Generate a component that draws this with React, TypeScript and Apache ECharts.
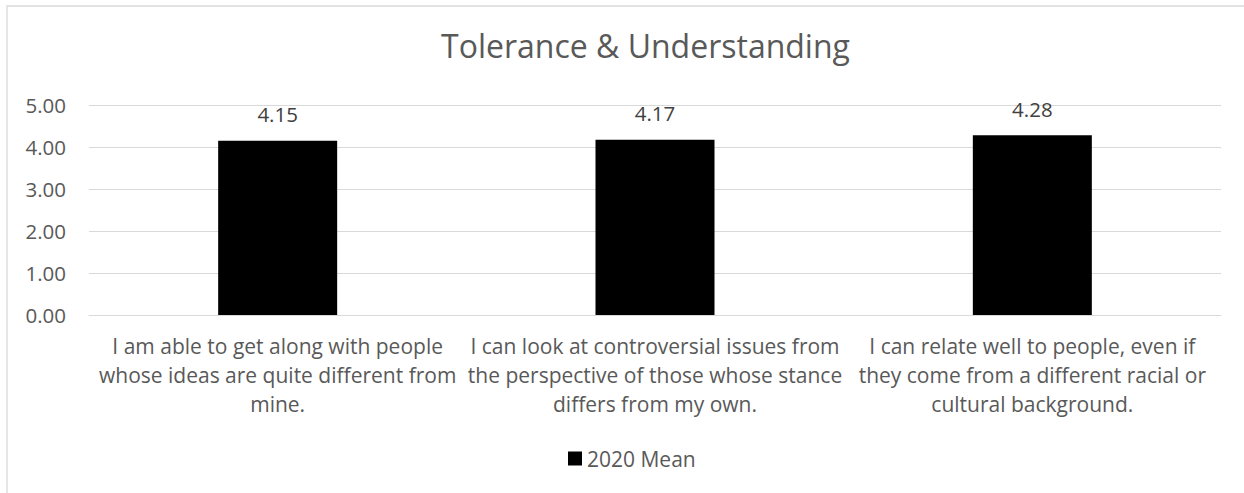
import React, { useEffect, useRef } from "react";
import * as echarts from "echarts";

const titleText = "Tolerance & Understanding";
const categories = [
  "I am able to get along with people\nwhose ideas are quite different from\nmine.",
  "I can look at controversial issues from\nthe perspective of those whose stance\ndiffers from my own.",
  "I can relate well to people, even if\nthey come from a different racial or\ncultural background.",
];
const seriesName = "2020 Mean";
const values = [4.15, 4.17, 4.28];
const yMin = 0;
const yMax = 5;
const yInterval = 1;

const FONT = "'Open Sans', Lato, sans-serif";

export default function App() {
  const ref = useRef<HTMLDivElement>(null);
  useEffect(() => {
    if (!ref.current) return;
    const chart = echarts.init(ref.current, null, { renderer: "svg" });
    chart.setOption({
      animation: false,
      backgroundColor: "#ffffff",
      textStyle: { fontFamily: FONT },
      title: {
        text: titleText,
        left: 441,
        top: 29,
        padding: 0,
        textStyle: { fontFamily: FONT, fontSize: 32, fontWeight: "normal", color: "#595959" },
      },
      graphic: [
        {
          type: "rect",
          shape: { x: 7, y: 6, width: 1400, height: 700 },
          style: { fill: "none", stroke: "#d9d9d9", lineWidth: 1.3 },
          silent: true,
        },
      ],
      legend: {
        data: [seriesName],
        left: 568,
        top: 448,
        padding: 0,
        icon: "rect",
        itemWidth: 14,
        itemHeight: 14,
        itemGap: 6,
        textStyle: { fontFamily: FONT, fontSize: 21, color: "#595959" },
      },
      grid: { left: 89, right: 23, top: 105, bottom: 178, containLabel: false },
      xAxis: {
        type: "category",
        data: categories,
        axisLine: { show: true, lineStyle: { color: "#d9d9d9", width: 1 } },
        axisTick: { show: false },
        axisLabel: {
          interval: 0,
          margin: 16,
          fontFamily: FONT,
          fontSize: 21,
          lineHeight: 29,
          color: "#595959",
          align: "center",
        },
      },
      yAxis: {
        type: "value",
        min: yMin,
        max: yMax,
        interval: yInterval,
        axisLine: { show: false },
        axisTick: { show: false },
        splitLine: { lineStyle: { color: "#d9d9d9", width: 1 } },
        axisLabel: {
          margin: 23,
          fontFamily: FONT,
          fontSize: 20.5,
          color: "#595959",
          formatter: (v: number) => v.toFixed(2),
        },
      },
      series: [
        {
          name: seriesName,
          type: "bar",
          data: values,
          barWidth: 119,
          itemStyle: { color: "#000000" },
          label: {
            show: true,
            position: "top",
            distance: 16,
            fontFamily: FONT,
            fontSize: 20.5,
            color: "#404040",
            formatter: (p: any) => Number(p.value).toFixed(2),
          },
        },
      ],
    });
    return () => chart.dispose();
  }, []);
  return (
    <div
      ref={ref}
      style={{ position: "absolute", left: 0, top: 0, width: 1244, height: 493 }}
    />
  );
}
